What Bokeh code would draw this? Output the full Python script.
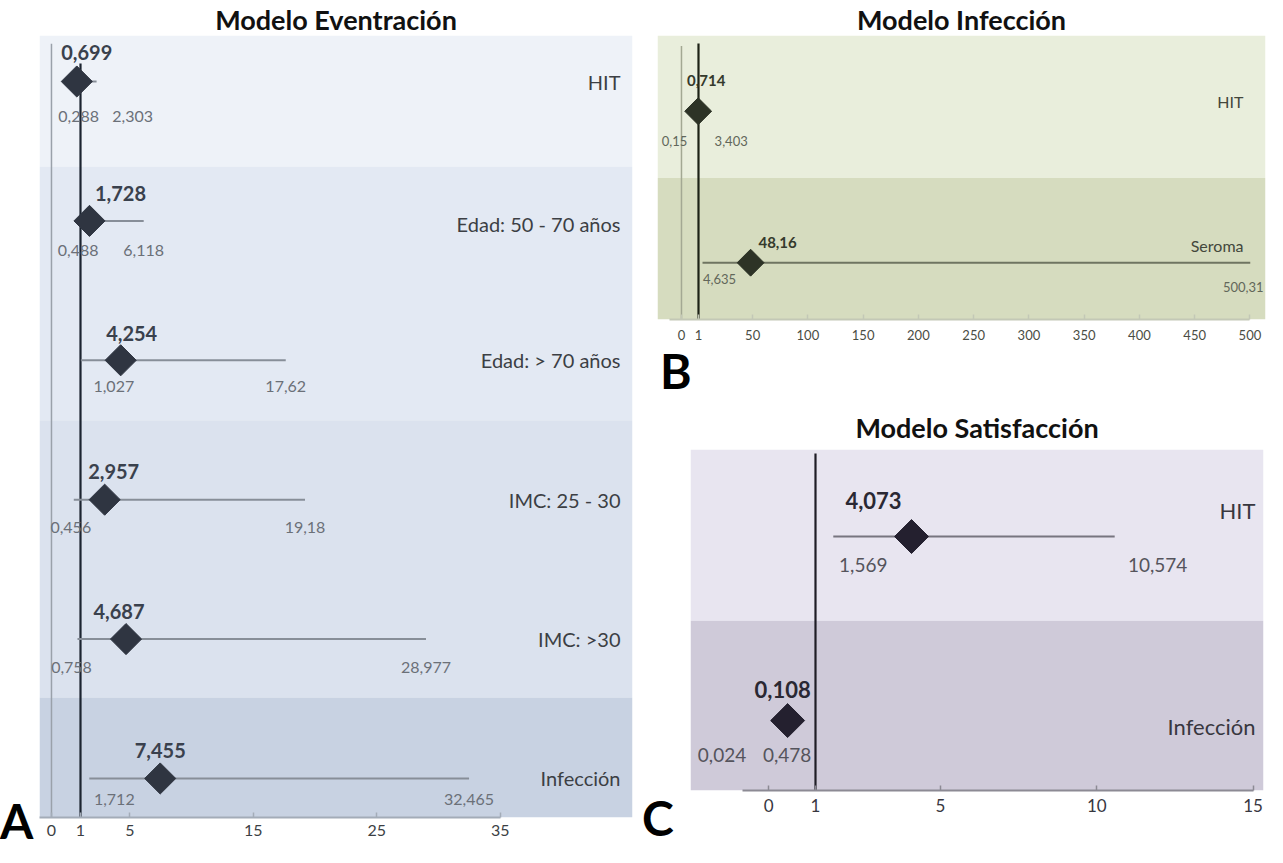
import math
from bokeh.plotting import figure
from bokeh.layouts import row, column
from bokeh.models import Range1d, FixedTicker, ColumnDataSource, BoxAnnotation, Div, Spacer
from bokeh.core.properties import value
from bokeh.embed import file_html
from bokeh.resources import INLINE

FONT = "Lato"

# ---------------- data ----------------
# Panel A: Modelo Eventración
a_labels = ["HIT", "Edad: 50 - 70 años", "Edad: > 70 años", "IMC: 25 - 30", "IMC: >30", "Infección"]
a_or = [0.699, 1.728, 4.254, 2.957, 4.687, 7.455]
a_lo = [0.288, 0.488, 1.027, 0.456, 0.758, 1.712]
a_hi = [2.303, 6.118, 17.62, 19.18, 28.977, 32.465]
a_ticks = [0, 1, 5, 15, 25, 35]

# Panel B: Modelo Infección
b_labels = ["HIT", "Seroma"]
b_or = [0.714, 48.16]
b_lo = [0.15, 4.635]
b_hi = [3.403, 500.31]
b_ticks = [0, 1, 50, 100, 150, 200, 250, 300, 350, 400, 450, 500]

# Panel C: Modelo Satisfacción
c_labels = ["HIT", "Infección"]
c_or = [4.073, 0.108]
c_lo = [1.569, 0.024]
c_hi = [10.574, 0.478]
c_ticks = [0, 1, 5, 10, 15]


def fmt(v):
    return str(v).replace(".", ",")


def build(title, labels, odds, lo, hi, ticks, axis_lim, xr, yr, band_edges, band_colors,
          size, borders, col, st, ref_top, zero_pos, zero_top=None):
    n = len(labels)
    ys = [n - i for i in range(n)]
    p = figure(width=size[0], height=size[1], x_range=Range1d(*xr), y_range=Range1d(*yr),
               output_backend="svg", toolbar_location=None, y_axis_location=None,
               min_border_left=borders[0], min_border_right=borders[1],
               min_border_top=borders[2], min_border_bottom=borders[3], title=title)
    p.frame_align = False
    p.background_fill_color = "white"
    p.border_fill_color = "white"
    p.outline_line_color = None
    p.xgrid.visible = False
    p.ygrid.visible = False

    p.title.text_font = FONT
    p.title.text_font_size = st["title_size"]
    p.title.text_font_style = "bold"
    p.title.text_color = "#111111"
    p.title.align = "center"
    p.title.standoff = st["title_standoff"]
    p.title.offset = st.get("title_offset", 0)

    for k, c in enumerate(band_colors):
        p.add_layout(BoxAnnotation(top=band_edges[k], bottom=band_edges[k + 1], fill_color=c,
                                   fill_alpha=1.0, line_alpha=0, level="underlay"))

    if zero_top is not None:
        p.segment(x0=[zero_pos], x1=[zero_pos], y0=[yr[0]], y1=[zero_top],
                  line_color=col["zero"], line_width=1.5)
    p.segment(x0=[1], x1=[1], y0=[yr[0]], y1=[ref_top], line_color=col["ref"], line_width=2.2)

    src = ColumnDataSource(dict(
        y=ys, o=odds, lo=lo, hi=hi, lab=labels,
        ot=[fmt(v) for v in odds], lot=[fmt(v) for v in lo], hit=[fmt(v) for v in hi],
        xr=[xr[1]] * n,
        vdx=st["vdx"], vdy=st["vdy"], ldx=st["ldx"], ldy=st["ldy"],
        hdx=st["hdx"], hdy=st["hdy"], rdy=st["rdy"]))

    p.segment(x0="lo", x1="hi", y0="y", y1="y", source=src, line_color=col["whisker"], line_width=2)
    p.scatter(x="o", y="y", source=src, marker="square", angle=math.pi / 4, size=st["dsize"],
              fill_color=col["diamond"], line_color=col["diamond"])

    p.text(x="o", y="y", text="ot", source=src, x_offset="vdx", y_offset="vdy",
           text_align="center", text_baseline="middle", text_font=value(FONT),
           text_font_style="bold", text_font_size=st["val_size"], text_color=col["val"])
    p.text(x="lo", y="y", text="lot", source=src, x_offset="ldx", y_offset="ldy",
           text_align="center", text_baseline="middle", text_font=value(FONT),
           text_font_size=st["ci_size"], text_color=col["ci"])
    p.text(x="hi", y="y", text="hit", source=src, x_offset="hdx", y_offset="hdy",
           text_align="center", text_baseline="middle", text_font=value(FONT),
           text_font_size=st["ci_size"], text_color=col["ci"])
    p.text(x="xr", y="y", text="lab", source=src, x_offset=st["rdx"], y_offset="rdy",
           text_align="right", text_baseline="middle", text_font=value(FONT),
           text_font_size=st["lab_size"], text_color=col["lab"])

    # axis: the "0" mark sits at the axis origin gap, as in the original figure
    tick_pos = [zero_pos if t == 0 else t for t in ticks]
    ax = p.xaxis[0]
    ax.ticker = FixedTicker(ticks=tick_pos, minor_ticks=[])
    ax.major_label_overrides = {zero_pos: "0"}
    ax.bounds = axis_lim
    ax.axis_line_color = col["axis"]
    ax.axis_line_width = 2
    ax.major_tick_line_color = col["axis"]
    ax.major_tick_line_width = 1.5
    ax.major_tick_in = 5
    ax.major_tick_out = 0
    ax.minor_tick_line_color = None
    ax.major_label_standoff = st["tick_standoff"]
    ax.major_label_text_font = FONT
    ax.major_label_text_font_size = st["tick_size"]
    ax.major_label_text_color = col["tick"]
    return p


def letter(txt, w, h):
    return Div(text=txt, width=w, height=h, margin=0,
               styles={"font-family": FONT, "font-size": "48px", "font-weight": "bold",
                       "line-height": f"{h}px", "color": "#000000"})


pA = build(
    "Modelo Eventración", a_labels, a_or, a_lo, a_hi, a_ticks, (-2.32, 35),
    (-2.32, 45.70), (0.72, 6.33), [6.33, 5.39, 3.57, 1.58, 0.72],
    ["#eef2f8", "#e3e9f3", "#dbe2ee", "#c8d2e2"],
    (605, 846), (2, 10, 34, 29),
    dict(zero="#9aa1aa", ref="#1c2430", whisker="#878e98", diamond="#2f3541",
         val="#3a414d", ci="#6b7078", lab="#3c3f44", axis="#a3acb8", tick="#3c3f44"),
    dict(title_size="27px", title_standoff=0, dsize=22, val_size="20px", ci_size="16px",
         lab_size="20px", tick_size="16px", tick_standoff=7,
         vdx=[10, 31, 11, 9, -7, 0], vdy=[-29, -27, -27, -28, -28, -28],
         ldx=[7, 4, 33, -3, -6, 25], ldy=[35, 30, 26, 28, 28, 21],
         hdx=[36, 0, 0, 0, 0, 0], hdy=[35, 30, 26, 28, 28, 21],
         rdx=-12, rdy=[0, 3, 0, 0, 0, 0]),
    6.13, -1.35, zero_top=6.27)

pB = build(
    "Modelo Infección", b_labels, b_or, b_lo, b_hi, b_ticks, (-25.0, 500),
    (-36.1, 514.1), (0.625, 2.5), [2.5, 1.56, 0.625],
    ["#e9eedc", "#d6dcbf"],
    (624, 350), (15, 1, 34, 31),
    dict(zero="#a3a893", ref="#1d2216", whisker="#6f7561", diamond="#2d3326",
         val="#353a2c", ci="#62675a", lab="#43473c", axis="#c3c8b6", tick="#4a4d44"),
    dict(title_size="27px", title_standoff=0, dsize=19, val_size="15px", ci_size="13px",
         lab_size="16px", tick_size="13px", tick_standoff=10,
         vdx=[8, 27], vdy=[-31, -20],
         ldx=[-23, 17], ldy=[30, 16],
         hdx=[30, -7], hdy=[30, 24],
         rdx=-22, rdy=[-10, -17]),
    2.447, -14.4, zero_top=2.43)

pC = build(
    "Modelo Satisfacción", c_labels, c_or, c_lo, c_hi, c_ticks, (-1.336, 15),
    (-3.0, 15.336), (0.62, 2.473), [2.473, 1.543, 0.62],
    ["#e8e5f0", "#cfcad9"],
    (576, 454), (0, 3, 57, 56),
    dict(zero="#999999", ref="#1f1d26", whisker="#77757f", diamond="#24202f",
         val="#2a2833", ci="#55545c", lab="#38373f", axis="#8c8a94", tick="#38373f"),
    dict(title_size="27px", title_standoff=11, title_offset=27, dsize=24, val_size="22px",
         ci_size="19px", lab_size="22px", tick_size="17px", tick_standoff=8,
         vdx=[-38, -5], vdy=[-36, -31],
         ldx=[30, -63], ldy=[28, 34],
         hdx=[43, -12], hdy=[28, 34],
         rdx=-8, rdy=[-26, 6]),
    2.451, -0.5)

left_col = column(Spacer(width=37, height=797, margin=0), letter("A", 37, 48), spacing=0)
b_row = row(Spacer(width=18, height=42, margin=0), letter("B", 60, 42), spacing=0)
c_left = column(Spacer(width=48, height=402, margin=0), letter("C", 48, 48), spacing=0)
right_col = column(pB, b_row, row(c_left, pC, spacing=0), spacing=0)
layout = row(left_col, pA, right_col, spacing=0)

with open("out.html", "w") as f:
    f.write(file_html(layout, INLINE))
